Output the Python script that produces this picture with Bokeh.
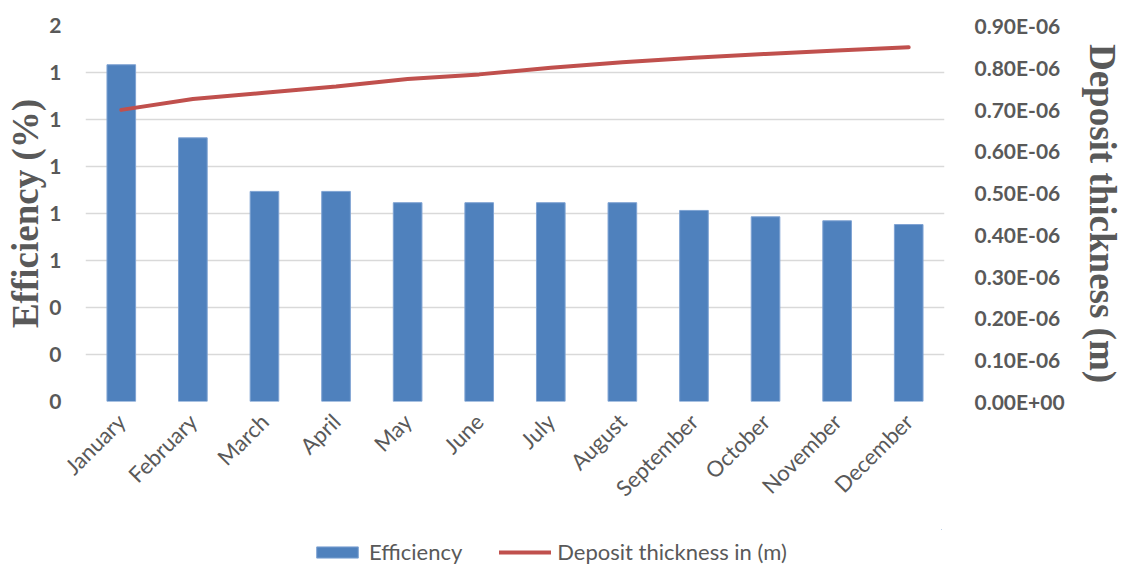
import math
from bokeh.plotting import figure
from bokeh.layouts import column
from bokeh.models import (ColumnDataSource, FactorRange, Range1d, LinearAxis,
                          FixedTicker, Legend, LegendItem)
from bokeh.embed import file_html
from bokeh.resources import INLINE

months = ["January", "February", "March", "April", "May", "June", "July",
          "August", "September", "October", "November", "December"]
efficiency = [1.433, 1.122, 0.894, 0.894, 0.846, 0.846, 0.846, 0.846,
              0.813, 0.786, 0.769, 0.753]
thickness = [0.698e-6, 0.724e-6, 0.739e-6, 0.754e-6, 0.772e-6, 0.783e-6,
             0.799e-6, 0.812e-6, 0.823e-6, 0.832e-6, 0.840e-6, 0.848e-6]

left_ticks = [0.0, 0.2, 0.4, 0.6, 0.8, 1.0, 1.2, 1.4, 1.6]
left_labels = ["0", "0", "0", "1", "1", "1", "1", "1", "2"]
right_ticks = [0.0, 0.1e-6, 0.2e-6, 0.3e-6, 0.4e-6, 0.5e-6, 0.6e-6,
               0.7e-6, 0.8e-6, 0.9e-6]
right_labels = ["0.00E+00", "0.10E-06", "0.20E-06", "0.30E-06", "0.40E-06",
                "0.50E-06", "0.60E-06", "0.70E-06", "0.80E-06", "0.90E-06"]
series_names = ["Efficiency", "Deposit thickness in (m)"]

GRAY = "#595959"
BLUE = "#4F81BD"
RED = "#C0504D"
SANS = "Lato"
SERIF = "Liberation Serif"

src = ColumnDataSource(dict(month=months, eff=efficiency, thick=thickness))

p = figure(frame_width=859, frame_height=376,
           x_range=FactorRange(*months, range_padding=0),
           y_range=Range1d(0, 1.6), output_backend="svg", toolbar_location=None,
           min_border_left=85, min_border_right=178, min_border_top=25,
           min_border_bottom=128)
p.outline_line_color = None
p.extra_y_ranges = {"thick": Range1d(0, 0.9e-6)}

p.vbar(x="month", top="eff", width=0.4, source=src,
       fill_color=BLUE, line_color="#7fa3d3", line_width=1)
p.line(x="month", y="thick", source=src, y_range_name="thick",
       line_color=RED, line_width=4, line_cap="round")

# left axis
ya = p.yaxis[0]
ya.ticker = FixedTicker(ticks=left_ticks)
ya.major_label_overrides = dict(zip(left_ticks, left_labels))
ya.axis_label = "Efficiency (%)"

# right axis
ra = LinearAxis(y_range_name="thick", ticker=FixedTicker(ticks=right_ticks),
                axis_label="Deposit thickness (m)")
ra.major_label_overrides = dict(zip(right_ticks, right_labels))
p.add_layout(ra, "right")

for ax in (ya, ra):
    ax.axis_line_color = None
    ax.major_tick_line_color = None
    ax.minor_tick_line_color = None
    ax.major_label_text_font = SANS
    ax.major_label_text_font_style = "bold"
    ax.major_label_text_font_size = "21px"
    ax.major_label_text_color = GRAY
    ax.axis_label_text_font = SERIF
    ax.axis_label_text_font_style = "bold"
    ax.axis_label_text_font_size = "37px"
    ax.axis_label_text_color = GRAY
ya.major_label_standoff = 18
ya.axis_label_standoff = 0
ra.major_label_standoff = 24
ra.axis_label_standoff = 14

xa = p.xaxis[0]
xa.axis_line_color = None
xa.major_tick_line_color = None
xa.minor_tick_line_color = None
xa.major_label_orientation = math.pi / 4
xa.major_label_text_font = SANS
xa.major_label_text_font_size = "22px"
xa.major_label_text_color = GRAY
xa.major_label_standoff = 10

p.xgrid.grid_line_color = None
p.ygrid.ticker = FixedTicker(ticks=left_ticks)
p.ygrid.grid_line_color = "#d9d9d9"
p.ygrid.grid_line_width = 1.5

# legend strip below the chart (key marks sit outside its visible range)
q = figure(width=1122, height=37, x_range=Range1d(0, 1), y_range=Range1d(0, 1),
           x_axis_location=None, y_axis_location=None, output_backend="svg",
           toolbar_location=None, min_border=0, min_border_left=0,
           min_border_right=0, min_border_top=0, min_border_bottom=0)
q.outline_line_color = None
q.grid.visible = False
key_src = ColumnDataSource(dict(x=[10.0, 11.0], y=[10.0, 10.0]))
kb = q.vbar(x="x", top="y", bottom=9.0, width=0.4, source=key_src,
            fill_color=BLUE, line_color="#7fa3d3")
kl = q.line(x="x", y="y", source=key_src, line_color=RED, line_width=4,
            line_cap="round")
legend = Legend(items=[LegendItem(label=series_names[0], renderers=[kb]),
                       LegendItem(label=series_names[1], renderers=[kl])],
                orientation="horizontal", location=(226, 1),
                border_line_color=None, background_fill_alpha=0,
                label_text_font=SANS, label_text_font_size="22px",
                label_text_color=GRAY, glyph_width=52, glyph_height=14,
                spacing=37, label_standoff=6, margin=0, padding=4)
q.add_layout(legend, "center")

layout = column(p, q, spacing=0)
open("out.html", "w").write(file_html(layout, INLINE))
